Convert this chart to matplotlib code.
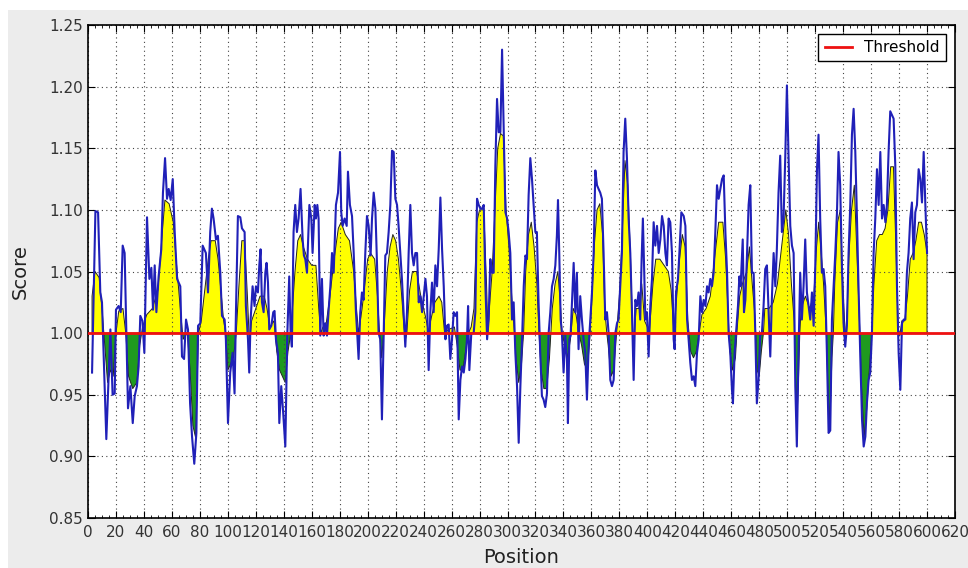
import numpy as np
import matplotlib
matplotlib.use("Agg")
import matplotlib.pyplot as plt
from matplotlib.patches import Rectangle
from matplotlib.ticker import MultipleLocator

# raw score (blue line)
raw_pos = [2.9, 5.3, 7.2, 8.8, 10.0, 13.1, 16.0, 17.6, 19.1, 20.0, 21.9, 23.4, 24.8, 26.2, 28.6,
           30.3, 32.0, 33.4, 35.0, 36.2, 37.4, 38.9, 40.3, 42.2, 43.9, 45.3, 46.5, 47.7, 48.9,
           50.5, 52.4, 53.6, 55.1, 56.5, 57.7, 59.1, 60.6, 62.0, 63.7, 66.0, 67.2, 68.7, 70.1,
           71.5, 73.0, 74.4, 76.0, 77.5, 78.7, 80.3, 82.0, 84.3, 85.8, 87.4, 88.6, 89.8, 91.5,
           92.9, 94.6, 95.8, 97.7, 98.6, 100.1, 101.7, 103.4, 104.8, 105.8, 107.2, 108.9, 110.1,
           112.0, 112.9, 114.4, 115.3, 116.3, 117.7, 119.1, 120.1, 121.5, 122.5, 123.4, 124.4,
           125.6, 126.8, 127.7, 128.7, 129.6, 131.1, 132.5, 133.4, 134.4, 135.8, 136.8, 138.2,
           139.6, 141.1, 142.5, 143.9, 144.9, 145.8, 147.0, 148.2, 149.4, 150.6, 152.0, 153.5,
           154.4, 155.4, 156.6, 158.3, 159.7, 160.6, 162.1, 163.0, 164.0, 164.9, 166.1, 167.3,
           168.5, 169.7, 170.9, 172.1, 173.3, 174.5, 175.7, 177.3, 178.8, 180.2, 181.1, 182.1,
           183.5, 185.0, 185.9, 187.3, 188.8, 190.0, 191.6, 192.6, 193.5, 194.7, 195.9, 197.1,
           198.3, 199.5, 200.7, 202.1, 203.1, 204.3, 205.5, 206.7, 207.8, 209.0, 210.2, 211.4,
           212.6, 213.8, 215.0, 216.2, 217.4, 218.6, 219.8, 221.0, 222.1, 223.3, 224.5, 225.7,
           226.9, 228.1, 229.3, 230.5, 231.7, 232.9, 234.1, 235.3, 236.5, 237.7, 238.9, 240.1,
           241.3, 242.4, 243.6, 244.8, 246.0, 247.2, 248.4, 249.6, 250.8, 252.0, 253.2, 254.4,
           255.6, 256.7, 257.9, 259.1, 260.3, 261.5, 262.7, 263.9, 265.1, 266.3, 267.5, 268.7,
           269.9, 271.0, 271.8, 272.7, 274.1, 275.8, 277.0, 278.2, 279.4, 280.6, 281.8, 283.0,
           284.2, 285.4, 286.5, 287.7, 288.9, 290.1, 291.3, 292.5, 293.7, 294.9, 296.1, 297.3,
           298.5, 299.7, 300.8, 302.0, 303.2, 304.4, 305.6, 306.8, 308.0, 309.2, 310.4, 311.6,
           312.8, 313.9, 315.1, 316.3, 317.5, 318.7, 319.9, 321.0, 322.2, 323.4, 324.6, 325.8,
           327.0, 328.2, 329.4, 330.6, 331.8, 333.0, 334.2, 335.3, 336.1, 337.0, 338.0, 338.9,
           340.1, 341.3, 342.5, 343.2, 344.2, 345.1, 346.1, 347.3, 348.5, 349.6, 350.8, 352.0,
           353.2, 354.4, 355.6, 356.8, 358.0, 359.2, 360.4, 361.6, 362.8, 364.0, 365.1, 366.3,
           367.5, 368.7, 369.9, 371.1, 372.3, 373.5, 374.7, 375.9, 377.1, 378.3, 379.4, 380.6,
           381.8, 383.0, 384.2, 385.4, 386.6, 387.8, 389.0, 390.2, 391.4, 392.6, 393.7, 394.9,
           395.9, 396.8, 398.6, 399.7, 400.9, 402.1, 403.3, 404.5, 405.7, 406.9, 408.1, 409.3,
           410.5, 411.7, 412.9, 414.0, 415.2, 416.4, 417.6, 418.8, 419.5, 420.5, 421.9, 422.9,
           424.3, 426.0, 427.2, 428.4, 429.5, 430.7, 431.9, 433.1, 434.3, 435.5, 436.7, 437.9,
           439.1, 440.3, 441.5, 442.7, 443.8, 445.0, 446.2, 447.4, 448.6, 449.8, 451.0, 452.2,
           453.4, 454.6, 455.8, 457.0, 458.1, 459.3, 460.5, 461.2, 462.4, 463.4, 464.8, 465.8,
           466.7, 468.2, 469.1, 470.1, 471.3, 472.4, 473.6, 474.8, 476.0, 477.2, 478.3, 479.5,
           480.7, 481.9, 483.1, 484.3, 485.5, 486.7, 487.9, 489.1, 490.3, 491.5, 492.6, 493.8,
           495.0, 496.2, 497.4, 498.6, 499.8, 501.0, 502.2, 503.4, 504.6, 505.8, 506.9, 508.1,
           509.3, 510.5, 511.7, 512.9, 514.1, 515.3, 516.5, 517.7, 518.9, 520.1, 521.3, 522.4,
           523.6, 524.8, 526.0, 527.2, 528.4, 529.6, 530.8, 532.0, 533.2, 534.4, 535.6, 536.7,
           537.9, 539.1, 540.3, 541.5, 542.7, 543.9, 545.1, 546.3, 547.5, 548.7, 549.9, 551.0,
           552.2, 553.5, 554.7, 555.9, 557.0, 558.2, 559.4, 560.6, 561.8, 563.0, 564.2, 565.4,
           566.6, 567.8, 569.0, 570.2, 571.3, 572.5, 573.7, 574.9, 576.1, 577.3, 578.5, 579.7,
           580.9, 582.1, 583.3, 584.5, 585.6, 586.8, 588.0, 589.2, 590.4, 591.6, 592.8, 594.0,
           595.2, 596.4, 597.6, 598.8, 600.0]
raw_score = [0.968, 1.099, 1.098, 1.033, 1.025, 0.914, 1.003, 0.950, 0.951, 1.019, 1.022, 1.017,
             1.071, 1.065, 0.939, 0.957, 0.927, 0.949, 0.957, 0.973, 1.014, 1.010, 0.984, 1.094,
             1.044, 1.053, 1.019, 1.055, 1.017, 1.046, 1.068, 1.114, 1.142, 1.109, 1.117, 1.108,
             1.125, 1.082, 1.044, 1.038, 0.981, 0.979, 1.011, 1.003, 0.943, 0.916, 0.894, 0.919,
             1.006, 1.008, 1.071, 1.065, 1.033, 1.082, 1.101, 1.093, 1.076, 1.079, 1.049, 1.014,
             1.011, 0.995, 0.927, 0.968, 0.984, 0.951, 1.017, 1.095, 1.094, 1.085, 1.082, 1.022,
             0.995, 0.968, 1.011, 1.038, 1.022, 1.038, 1.033, 1.055, 1.068, 1.025, 1.017, 1.049,
             1.057, 1.041, 1.003, 1.006, 1.017, 1.018, 0.995, 0.984, 0.927, 0.957, 0.935, 0.908,
             0.998, 1.046, 1.000, 0.989, 1.082, 1.104, 1.082, 1.093, 1.117, 1.076, 1.063, 1.060,
             1.049, 1.104, 1.093, 1.065, 1.104, 1.093, 1.104, 1.093, 0.998, 1.044, 0.998, 1.008,
             0.998, 1.019, 1.038, 1.065, 1.049, 1.104, 1.114, 1.147, 1.098, 1.087, 1.093, 1.087,
             1.131, 1.104, 1.095, 1.065, 1.017, 0.998, 0.979, 1.017, 1.033, 1.027, 1.065, 1.095,
             1.087, 1.063, 1.093, 1.114, 1.101, 1.055, 1.000, 0.995, 0.930, 0.995, 1.063, 1.065,
             1.082, 1.104, 1.148, 1.147, 1.109, 1.104, 1.087, 1.065, 1.044, 1.017, 0.989, 1.017,
             1.065, 1.104, 1.065, 1.055, 1.065, 1.065, 1.025, 1.030, 1.017, 1.030, 1.044, 1.030,
             0.970, 1.017, 1.041, 1.017, 1.055, 1.038, 1.068, 1.110, 1.068, 1.038, 0.995, 1.006,
             1.007, 0.979, 0.995, 1.017, 1.014, 1.017, 0.930, 0.962, 0.973, 0.968, 0.979, 0.995,
             1.022, 0.970, 1.000, 1.000, 1.017, 1.109, 1.104, 1.101, 1.101, 1.104, 1.038, 0.995,
             1.011, 1.060, 1.049, 1.049, 1.136, 1.190, 1.163, 1.163, 1.230, 1.166, 1.098, 1.093,
             1.082, 1.065, 1.011, 1.025, 0.984, 0.957, 0.911, 0.957, 0.995, 1.038, 1.063, 1.060,
             1.112, 1.142, 1.125, 1.104, 1.082, 1.082, 1.025, 0.984, 0.949, 0.946, 0.940, 0.951,
             1.000, 1.017, 1.038, 1.044, 1.055, 1.079, 1.108, 1.065, 1.011, 1.000, 0.968, 0.998,
             0.979, 0.927, 0.995, 0.998, 1.025, 1.057, 1.017, 1.049, 0.987, 1.030, 1.011, 0.995,
             0.984, 0.946, 0.989, 1.011, 1.033, 1.065, 1.132, 1.120, 1.117, 1.114, 1.109, 1.065,
             1.011, 1.017, 1.000, 0.962, 0.957, 0.962, 1.000, 1.008, 1.011, 1.038, 1.065, 1.147,
             1.174, 1.142, 1.093, 1.065, 1.017, 0.962, 1.027, 1.022, 1.033, 1.011, 1.060, 1.093,
             1.011, 1.017, 0.981, 1.022, 1.044, 1.090, 1.071, 1.087, 1.065, 1.076, 1.095, 1.087,
             1.065, 1.055, 1.093, 1.090, 1.065, 0.995, 0.987, 1.033, 1.044, 1.065, 1.098, 1.095,
             1.087, 1.011, 0.995, 0.976, 0.962, 0.965, 0.957, 0.984, 0.995, 1.030, 1.017, 1.027,
             1.022, 1.038, 1.033, 1.044, 1.038, 1.049, 1.082, 1.120, 1.109, 1.117, 1.125, 1.128,
             1.082, 1.049, 1.000, 0.984, 0.954, 0.943, 0.984, 1.000, 1.022, 1.046, 1.038, 1.076,
             1.017, 1.027, 1.065, 1.104, 1.120, 1.049, 1.049, 1.000, 0.943, 0.962, 0.998, 1.000,
             1.022, 1.052, 1.055, 1.017, 0.981, 1.030, 1.065, 1.038, 1.068, 1.114, 1.144, 1.082,
             1.093, 1.142, 1.201, 1.142, 1.087, 1.071, 1.065, 0.957, 0.908, 0.984, 1.049, 1.011,
             1.038, 1.076, 1.033, 1.022, 1.011, 1.033, 1.006, 1.055, 1.133, 1.161, 1.093, 1.049,
             1.052, 1.038, 0.984, 0.919, 0.921, 1.011, 1.038, 1.065, 1.098, 1.147, 1.120, 1.055,
             1.008, 0.989, 1.006, 1.065, 1.104, 1.161, 1.182, 1.147, 1.093, 1.038, 0.984, 0.930,
             0.908, 0.916, 0.943, 0.962, 0.968, 1.000, 1.065, 1.093, 1.133, 1.104, 1.147, 1.093,
             1.104, 1.090, 1.104, 1.147, 1.180, 1.177, 1.174, 1.136, 1.038, 0.984, 0.954, 1.008,
             1.011, 1.011, 1.049, 1.065, 1.093, 1.106, 1.060, 1.098, 1.104, 1.133, 1.125, 1.106,
             1.147, 1.104, 1.065]

# smoothed score (edge of the yellow / green fill)
fill_pos = [2.9, 5, 8, 10, 12, 14, 16, 18, 20, 22, 25, 27, 29, 32, 35, 37, 39, 42, 46, 50, 53, 55,
            58, 61, 63, 66, 68, 71, 73, 75, 77, 79, 81, 83, 86, 88, 91, 93, 95, 97, 98.5, 100,
            102, 104, 106, 108, 110, 112, 114, 115.5, 117, 120, 123, 126, 128, 130, 133, 135,
            137, 139, 141, 143, 145, 148, 150, 152, 154, 157, 160, 163, 165, 166.5, 168, 170,
            173, 176, 179, 181, 184, 187, 190, 192, 193.5, 196, 198, 200, 202, 205, 207, 208.5,
            210, 211.5, 214, 216, 218, 220, 222, 224, 226, 227, 228, 230, 232, 235, 238, 240,
            242, 243.5, 245, 248, 251, 253, 255, 258, 262, 264, 266, 268, 270, 272, 274, 276,
            278, 280, 283, 285, 286, 287, 289, 291, 293, 295, 297, 299, 301, 303, 305, 306, 308,
            310, 311.5, 313, 315, 317, 319, 321, 322.5, 324, 326, 328, 330, 331, 332, 334, 336,
            338, 339, 341, 343, 345, 347, 349, 351, 353, 355, 357, 358.5, 360, 362, 364, 366,
            368, 369.5, 371, 372, 374, 376, 378, 380, 382, 384, 386, 388, 389.5, 390, 392, 394,
            396, 398, 400, 401, 402, 404, 406, 409, 412, 415, 417, 419, 421, 423, 425, 427, 429,
            431, 433, 435, 437, 439, 442, 445, 448, 451, 454, 456, 458, 459, 461, 463, 464, 466,
            468, 471, 473, 475, 476.5, 477.5, 478.5, 480, 481.5, 483, 484, 487, 490, 493, 495,
            497, 499, 501, 503, 505, 505.8, 507, 508, 509, 510, 513, 516, 519, 521, 522.5, 524,
            526, 528, 529, 530.5, 532, 533, 534, 536, 538, 539.5, 541, 541.5, 543, 544, 546, 548,
            550, 552, 553, 555, 557, 559, 560.5, 562, 564, 566, 568, 570, 572, 574, 576, 578,
            579.5, 580.5, 582, 584, 586, 588, 590, 592, 594, 596, 598, 600]
fill_score = [1.03, 1.05, 1.045, 1.02, 0.99, 0.96, 0.97, 0.965, 1.0, 1.018, 1.02, 1.0, 0.965,
              0.955, 0.96, 0.99, 1.005, 1.015, 1.02, 1.035, 1.08, 1.108, 1.105, 1.09, 1.06, 1.02,
              0.995, 1.0, 0.97, 0.925, 0.915, 1.0, 1.01, 1.03, 1.06, 1.075, 1.075, 1.06, 1.035,
              1.01, 1.0, 0.97, 0.975, 0.98, 1.0, 1.04, 1.075, 1.075, 1.03, 0.99, 1.01, 1.02, 1.03,
              1.03, 1.02, 1.005, 1.01, 0.985, 0.97, 0.965, 0.96, 0.985, 1.0, 1.05, 1.075, 1.08,
              1.07, 1.06, 1.055, 1.055, 1.02, 1.0, 1.005, 1.005, 1.03, 1.06, 1.085, 1.09, 1.08,
              1.075, 1.05, 1.02, 1.0, 1.02, 1.04, 1.06, 1.065, 1.06, 1.03, 1.0, 0.98, 1.0, 1.05,
              1.07, 1.08, 1.075, 1.06, 1.035, 1.005, 0.995, 1.0, 1.035, 1.05, 1.05, 1.03, 1.02,
              1.01, 1.0, 1.01, 1.025, 1.03, 1.025, 1.0, 1.003, 1.005, 0.99, 0.97, 0.97, 0.985, 1.0,
              1.005, 1.02, 1.09, 1.1, 1.1, 1.04, 1.0, 1.02, 1.05, 1.1, 1.15, 1.162, 1.16, 1.1,
              1.07, 1.03, 1.0, 0.98, 0.96, 0.975, 1.0, 1.05, 1.08, 1.09, 1.07, 1.04, 1.0, 0.97,
              0.955, 0.955, 0.98, 1.0, 1.02, 1.04, 1.05, 1.02, 1.0, 0.99, 0.98, 0.995, 1.02, 1.015,
              1.0, 0.99, 0.975, 0.97, 0.99, 1.02, 1.07, 1.1, 1.105, 1.08, 1.02, 1.0, 0.99, 0.965,
              0.97, 1.0, 1.03, 1.08, 1.14, 1.12, 1.06, 1.0, 0.99, 1.02, 1.02, 1.04, 1.01, 1.005,
              0.995, 1.01, 1.04, 1.06, 1.06, 1.055, 1.05, 1.035, 1.0, 1.03, 1.06, 1.08, 1.07, 1.01,
              0.985, 0.98, 0.985, 1.0, 1.015, 1.02, 1.03, 1.06, 1.09, 1.09, 1.06, 1.01, 0.985,
              0.97, 0.98, 1.0, 1.03, 1.04, 1.05, 1.07, 1.04, 1.02, 1.0, 0.97, 0.965, 0.985, 1.0,
              1.02, 1.02, 1.025, 1.04, 1.06, 1.08, 1.1, 1.08, 1.04, 1.01, 0.97, 0.93, 0.96, 1.0,
              1.02, 1.03, 1.02, 1.03, 1.07, 1.09, 1.07, 1.04, 1.0, 0.96, 0.925, 0.98, 1.0, 1.04,
              1.09, 1.1, 1.05, 1.01, 0.995, 1.02, 1.06, 1.1, 1.12, 1.06, 1.0, 0.96, 0.915, 0.94,
              0.975, 1.0, 1.04, 1.075, 1.08, 1.08, 1.085, 1.1, 1.135, 1.135, 1.06, 1.0, 0.998,
              1.01, 1.01, 1.03, 1.06, 1.065, 1.075, 1.09, 1.09, 1.08, 1.065]

threshold = 1.0
x_ticks = np.arange(0, 621, 20)
y_ticks = [0.85, 0.90, 0.95, 1.00, 1.05, 1.10, 1.15, 1.20, 1.25]

plt.rcParams['font.family'] = ['DejaVu Sans']

fig = plt.figure(figsize=(9.68, 5.68), dpi=100, facecolor='#ececec')
# white border of the screenshot
fig.patches.append(Rectangle((0, 0), 8 / 968, 1, transform=fig.transFigure,
                             facecolor='white', edgecolor='none', zorder=0))
fig.patches.append(Rectangle((0, 1 - 10 / 568), 1, 10 / 568, transform=fig.transFigure,
                             facecolor='white', edgecolor='none', zorder=0))

ax = fig.add_axes([88 / 968, 50 / 568, 867 / 968, 493 / 568])
ax.set_facecolor('white')

fp = np.array(fill_pos)
fs = np.array(fill_score)
ax.fill_between(fp, fs, threshold, where=fs >= threshold, interpolate=True,
                facecolor='yellow', edgecolor='#222222', linewidth=0.7, zorder=1)
ax.fill_between(fp, fs, threshold, where=fs < threshold, interpolate=True,
                facecolor='#1f9a1f', edgecolor='#222222', linewidth=0.7, zorder=1)

ax.plot(raw_pos, raw_score, color='#2020b8', linewidth=1.5, zorder=2)
ax.axhline(threshold, color='#ee1111', linewidth=2, label='Threshold', zorder=3)

ax.set_xlim(0, 620)
ax.set_ylim(0.85, 1.25)
ax.set_xticks(x_ticks)
ax.set_yticks(y_ticks)
ax.set_yticklabels(['%.2f' % v for v in y_ticks])
ax.xaxis.set_minor_locator(MultipleLocator(5))
ax.tick_params(which='both', direction='in', top=True, right=True, labelsize=11,
               labelcolor='#333333')
ax.tick_params(which='major', length=5, width=0.8)
ax.tick_params(which='minor', length=2.5, width=0.6)
ax.tick_params(axis='x', pad=5)
ax.grid(True, which='major', color='#444444', linestyle=(0, (1, 3)), linewidth=0.8)
for s in ax.spines.values():
    s.set_linewidth(1.2)

ax.set_xlabel('Position', fontsize=14, labelpad=6, color='#222222')
ax.set_ylabel('Score', fontsize=14, labelpad=14, color='#222222')

leg = ax.legend(loc='upper right', fontsize=11, fancybox=False, framealpha=1,
                edgecolor='black', borderaxespad=0.6, handlelength=1.8)
leg.get_frame().set_linewidth(1.0)

fig.savefig('out.png', dpi=100, facecolor=fig.get_facecolor())
